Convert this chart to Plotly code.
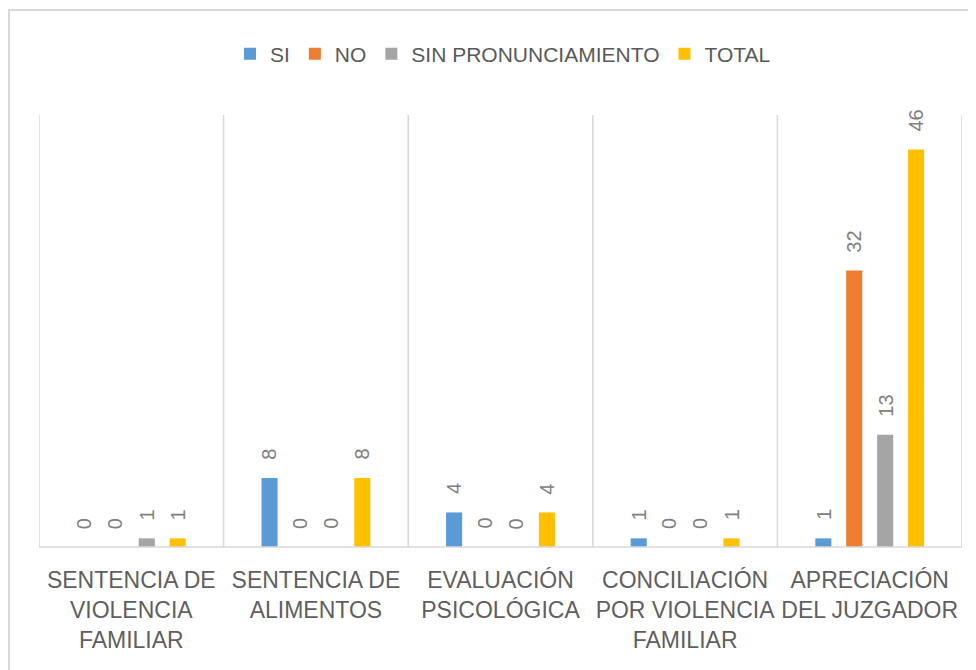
import plotly.graph_objects as go

categories = ["SENTENCIA DE<br>VIOLENCIA<br>FAMILIAR", "SENTENCIA DE<br>ALIMENTOS",
              "EVALUACIÓN<br>PSICOLÓGICA", "CONCILIACIÓN<br>POR VIOLENCIA<br>FAMILIAR",
              "APRECIACIÓN<br>DEL JUZGADOR"]
series_names = ["SI", "NO", "SIN PRONUNCIAMIENTO", "TOTAL"]
si = [0, 8, 4, 1, 1]
no = [0, 0, 0, 0, 32]
sin_pron = [1, 0, 0, 0, 13]
total = [1, 8, 4, 1, 46]
colors = ["#5B9BD5", "#ED7D31", "#A5A5A5", "#FFC000"]

values = [si, no, sin_pron, total]

# page body has an 8px margin: figure origin sits at (8, 8) in the window
OFF = 8
W, H = 976 - OFF, 670 - OFF
ML, MR, MT, MB = 39 - OFF, 14, 115 - OFF, 123
pw = W - ML - MR
ph = H - MT - MB

fig = go.Figure()
for name, vals, c in zip(series_names, values, colors):
    fig.add_trace(go.Bar(name=name, x=categories, y=vals, marker_color=c,
                         marker_line_width=0))

bargap = 0.33
slot = (1 - bargap) / 4 * (pw / len(categories))
LABEL_SIZE = 20
annotations = []
for i, vals in enumerate(values):
    off = (i - 1.5) * slot
    for cat, v in zip(categories, vals):
        txt = str(v)
        half_len = len(txt) * LABEL_SIZE * 0.556 / 2
        annotations.append(dict(x=cat, y=v, xref="x", yref="y", text=txt,
                                showarrow=False, textangle=-90, xshift=off,
                                yanchor="middle", yshift=18 + half_len,
                                font=dict(family="Liberation Sans, Arial",
                                          size=LABEL_SIZE, color="#808080")))

shapes = []
for k in range(len(categories) + 1):
    shapes.append(dict(type="line", xref="x", yref="paper", x0=k - 0.5, x1=k - 0.5,
                       y0=0, y1=1, line=dict(color="#D9D9D9", width=1.5)))
shapes.append(dict(type="line", xref="paper", yref="paper", x0=0, x1=1, y0=0, y1=0,
                   line=dict(color="#D9D9D9", width=1.5)))
# chart border
shapes.append(dict(type="rect", xref="paper", yref="paper",
                   x0=(9 - OFF - ML) / pw, x1=(990 - OFF - ML) / pw,
                   y0=(H - MB - 700) / ph, y1=(H - MB - (10 - OFF)) / ph,
                   line=dict(color="#D9D9D9", width=2), fillcolor="rgba(0,0,0,0)"))

fig.update_layout(
    width=W, height=H,
    margin=dict(l=ML, r=MR, t=MT, b=MB),
    paper_bgcolor="white", plot_bgcolor="white",
    barmode="group", bargap=bargap, bargroupgap=0.48,
    showlegend=True,
    legend=dict(orientation="h", x=(503 - OFF - ML) / pw, xanchor="center",
                y=(H - MB - (54 - OFF)) / ph, yanchor="middle",
                font=dict(family="Liberation Sans, Arial", size=21, color="#595959"),
                itemwidth=30, traceorder="normal"),
    xaxis=dict(showgrid=False, showline=False, zeroline=False, ticks="",
               tickangle=0, ticklabelstandoff=17,
               tickfont=dict(family="Liberation Sans, Arial", size=23, color="#5F5F5F"),
               range=[-0.5, 4.5]),
    yaxis=dict(range=[0, 50], showgrid=False, showticklabels=False, zeroline=False,
               showline=False, ticks=""),
    annotations=annotations,
    shapes=shapes,
)

fig.write_html("out.html")
